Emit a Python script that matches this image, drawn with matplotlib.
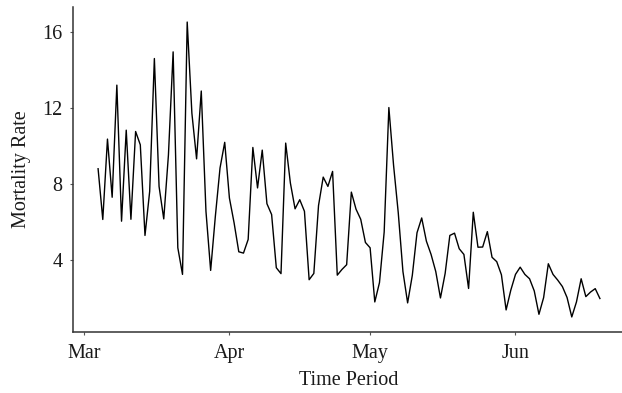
import matplotlib
matplotlib.use("Agg")
import matplotlib.pyplot as plt
import matplotlib.dates as mdates
import pandas as pd

# Daily mortality rate, 4 March to 19 June
start_date = "2020-03-04"
mortality_rate = [
    8.81, 6.14, 10.37, 7.31, 13.21, 6.05, 10.84, 6.15, 10.77, 10.07,
    5.30, 7.62, 14.61, 7.88, 6.17, 9.54, 14.96, 4.65, 3.25, 16.53,
    11.73, 9.33, 12.90, 6.57, 3.46, 6.30, 8.85, 10.20, 7.27, 5.96,
    4.44, 4.37, 5.09, 9.93, 7.80, 9.79, 6.97, 6.40, 3.60, 3.29,
    10.16, 8.06, 6.70, 7.18, 6.57, 2.97, 3.30, 6.87, 8.37, 7.88,
    8.67, 3.21, 3.51, 3.76, 7.58, 6.68, 6.15, 4.93, 4.65, 1.80,
    2.82, 5.48, 12.03, 9.00, 6.50, 3.40, 1.75, 3.20, 5.44, 6.22,
    5.00, 4.30, 3.40, 2.01, 3.30, 5.30, 5.42, 4.60, 4.30, 2.51,
    6.52, 4.68, 4.69, 5.50, 4.15, 3.92, 3.23, 1.38, 2.42, 3.25,
    3.63, 3.25, 3.02, 2.38, 1.15, 2.03, 3.81, 3.25, 2.95, 2.61,
    2.03, 1.01, 1.80, 3.02, 2.08, 2.32, 2.50, 1.98,
]
y_ticks = [4, 8, 12, 16]
x_label = "Time Period"
y_label = "Mortality Rate"

dates = pd.date_range(start_date, periods=len(mortality_rate), freq="D")

plt.rcParams["font.family"] = ["Liberation Serif", "DejaVu Serif"]

fig = plt.figure(figsize=(6.22, 3.93), dpi=100)
ax = fig.add_axes([73 / 622, 61.3 / 393, 552 / 622, 324.4 / 393])

ax.plot(dates, mortality_rate, color="black", linewidth=1.0)
ax.margins(x=0.05, y=0.05)

ax.set_yticks(y_ticks)
ax.xaxis.set_major_locator(mdates.MonthLocator())
ax.xaxis.set_major_formatter(mdates.DateFormatter("%b"))

for side in ("top", "right"):
    ax.spines[side].set_visible(False)
for side in ("left", "bottom"):
    ax.spines[side].set_color("#333333")
    ax.spines[side].set_linewidth(1.1)

ax.tick_params(axis="both", length=2.5, width=0.8, color="#555555",
               labelsize=14.5, labelcolor="#1a1a1a")
ax.tick_params(axis="x", pad=6)
ax.tick_params(axis="y", pad=5)

ax.set_xlabel(x_label, fontsize=14.5, color="#1a1a1a", labelpad=6)
ax.set_ylabel(y_label, fontsize=14.5, color="#1a1a1a", labelpad=8)

fig.savefig("out.png", dpi=100)
